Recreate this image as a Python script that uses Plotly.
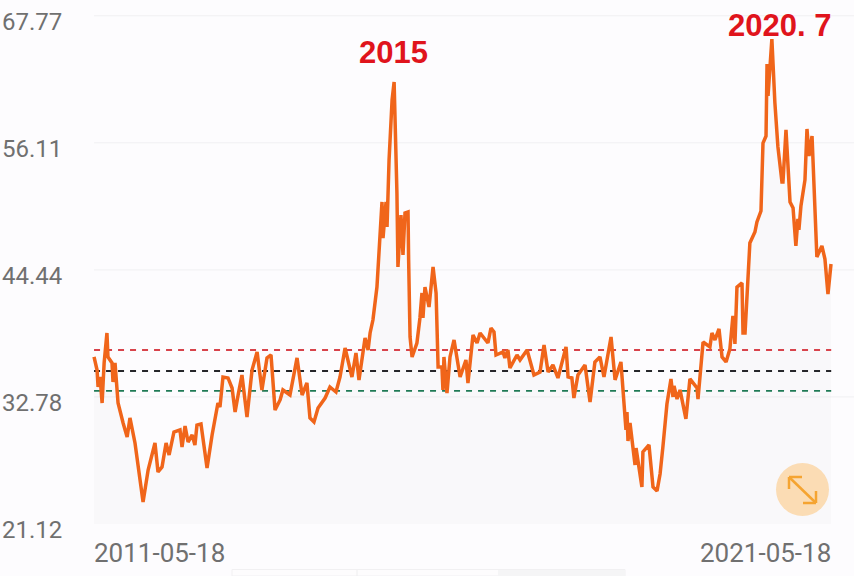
import datetime as dt
import plotly.graph_objects as go

START = dt.date(2011, 5, 18)
END = dt.date(2021, 5, 18)

days = [0,15,20,30,40,50,64,69,89,94,104,119,144,164,178,203,243,268,302,317,337,357,372,396,426,436,451,466,486,500,510,530,560,585,614,624,639,664,684,699,714,733,758,783,808,832,857,877,897,922,936,971,1006,1031,1055,1070,1090,1110,1145,1169,1199,1219,1244,1278,1298,1313,1343,1358,1368,1382,1402,1417,1427,1432,1447,1452,1462,1477,1487,1501,1506,1521,1531,1541,1556,1559,1566,1576,1600,1615,1625,1630,1640,1660,1670,1680,1695,1705,1724,1729,1734,1749,1764,1784,1814,1843,1853,1878,1898,1913,1952,1967,1982,1992,2027,2036,2051,2061,2096,2111,2146,2180,2210,2230,2250,2274,2299,2339,2349,2368,2378,2398,2433,2458,2482,2507,2527,2562,2582,2611,2636,2641,2646,2656,2681,2686,2715,2720,2750,2770,2790,2805,2819,2839,2859,2869,2874,2889,2904,2933,2953,2988,2993,3018,3052,3062,3077,3097,3112,3132,3151,3166,3176,3186,3211,3216,3226,3250,3275,3285,3305,3315,3330,3335,3340,3359,3374,3389,3409,3414,3429,3449,3464,3478,3488,3493,3503,3523,3533,3543,3558,3582,3607,3622,3637,3652]
values = [36.45,35.25,33.69,34.61,32.22,35.90,38.65,36.45,35.90,34.15,35.90,32.22,30.39,29.10,30.85,28.55,23.14,26.07,28.55,25.89,26.35,28.55,27.45,29.56,29.75,28.19,30.11,28.64,29.29,28.37,30.20,30.30,26.26,29.29,32.22,31.86,34.61,34.52,33.60,31.40,32.96,34.79,30.94,35.25,36.91,33.42,36.36,36.63,31.58,32.50,33.42,32.96,36.36,32.96,34.06,30.85,30.48,31.77,32.68,33.69,33.23,34.61,37.27,34.61,36.81,34.34,38.19,37.09,38.65,39.84,42.87,47.46,50.68,47.37,50.68,48.38,54.53,60.04,61.69,51.50,44.71,49.48,45.81,49.67,49.76,45.35,38.28,36.45,37.73,40.03,42.32,40.03,42.87,41.04,42.60,44.71,42.32,35.53,35.53,33.42,36.45,33.14,36.45,38.01,34.61,36.17,34.06,38.47,37.73,38.65,37.73,39.11,38.74,36.63,36.91,36.36,37.09,35.44,36.63,36.17,37.09,34.79,35.07,37.55,35.07,35.71,34.52,37.37,34.61,34.52,32.68,34.79,35.71,32.32,35.99,36.45,34.61,38.28,34.34,35.99,29.75,31.40,28.74,30.39,26.53,28.09,24.51,27.73,28.37,24.51,24.15,25.71,28.19,32.13,34.43,32.78,33.79,32.59,33.42,30.76,34.43,33.60,32.59,37.82,37.37,38.65,38.01,39.02,36.45,35.99,37.18,40.21,37.64,42.87,43.24,38.65,38.65,46.91,47.92,48.84,49.85,56.09,56.73,63.34,60.41,65.64,59.76,55.73,52.51,52.51,57.29,50.68,50.13,46.64,49.12,48.11,50.31,52.70,57.38,54.90,56.73,45.63,46.64,45.44,42.23,44.98]

y_ticks = [67.77, 56.11, 44.44, 32.78, 21.12]
high_band = 37.09
mid_band = 35.16
low_band = 33.33

dates = [START + dt.timedelta(days=d) for d in days]

W, H = 854, 576
def px(x): return x / W
def py(y): return 1 - y / H

x_min = START - dt.timedelta(days=466)
x_max = START + dt.timedelta(days=3766)

fig = go.Figure()
# light gridlines, starting just left of the data and running off the right edge
for t in y_ticks[:-1]:
    fig.add_trace(go.Scatter(x=[START, x_max], y=[t, t], mode="lines",
                             line=dict(color="#f0f0f2", width=1), hoverinfo="skip"))
fig.add_trace(go.Scatter(x=[START, END], y=[y_ticks[-1]] * 2, mode="lines",
                         line=dict(width=0), hoverinfo="skip"))
fig.add_trace(go.Scatter(x=dates, y=values, mode="lines", line=dict(width=0),
                         fill="tonexty", fillcolor="rgba(60,60,40,0.02)", hoverinfo="skip"))
for level, color in [(high_band, "#d8434b"), (mid_band, "#26262a"), (low_band, "#1f7a55")]:
    fig.add_trace(go.Scatter(x=[START, END], y=[level, level], mode="lines",
                             line=dict(color=color, width=1.8, dash="6px,6px"), hoverinfo="skip"))
fig.add_trace(go.Scatter(x=dates, y=values, mode="lines",
                         line=dict(color="#f0651a", width=3.5, shape="linear")))

tick_font = dict(family="Roboto", size=24, color="#707070")
date_font = dict(family="Roboto", size=26, color="#707070")
note_font = dict(family="Liberation Sans", size=31, color="#e0141c")

annotations = []
for t in y_ticks:
    annotations.append(dict(x=0, xref="paper", y=t, yref="y", yshift=-6, text=f"{t:.2f}",
                            showarrow=False, xanchor="left", yanchor="middle",
                            xshift=0, font=tick_font))
annotations.append(dict(x=START, xref="x", y=py(553), yref="paper", text="2011-05-18", showarrow=False,
                        xanchor="left", yanchor="middle", xshift=-2, font=date_font))
annotations.append(dict(x=END, xref="x", y=py(553), yref="paper", text="2021-05-18", showarrow=False,
                        xanchor="right", yanchor="middle", xshift=2, font=date_font))
annotations.append(dict(x=px(393), xref="paper", y=py(53), yref="paper", text="<b>2015</b>", showarrow=False,
                        xanchor="center", yanchor="middle", font=note_font))
annotations.append(dict(x=px(779), xref="paper", y=py(26), yref="paper", text="<b>2020. 7</b>", showarrow=False,
                        xanchor="center", yanchor="middle", font=note_font))

shapes = [
    dict(type="circle", xref="paper", yref="paper", x0=px(776), x1=px(829), y0=py(463), y1=py(516),
         fillcolor="#fbdcb4", line=dict(width=0), layer="above"),
    # tab strip peeking in at the bottom edge
    dict(type="rect", xref="paper", yref="paper", x0=px(232), x1=px(625), y0=py(576), y1=py(569.5),
         fillcolor="#fdfcfd", line=dict(color="#f1f0f2", width=1), layer="above"),
    dict(type="rect", xref="paper", yref="paper", x0=px(498), x1=px(625), y0=py(576), y1=py(570),
         fillcolor="#f5f5f6", line=dict(width=0), layer="above"),
    dict(type="line", xref="paper", yref="paper", x0=px(357), x1=px(357), y0=py(576), y1=py(570),
         line=dict(color="#eeeeef", width=1), layer="above"),
]
for path in [((789, 477), (816, 503)), ((789, 477), (789, 489)), ((789, 477), (802, 477)),
             ((816, 503), (816, 491)), ((816, 503), (803, 503))]:
    (a, b), (c, d) = path
    shapes.append(dict(type="line", xref="paper", yref="paper", x0=px(a), y0=py(b), x1=px(c), y1=py(d),
                       line=dict(color="#f5a431", width=2.5), layer="above"))

fig.update_layout(
    width=W, height=H, margin=dict(l=0, r=0, t=0, b=0),
    paper_bgcolor="#fdfcfe", plot_bgcolor="#fdfcfe", showlegend=False,
    annotations=annotations, shapes=shapes,
    xaxis=dict(range=[x_min, x_max], showgrid=False, zeroline=False, showticklabels=False, ticks=""),
    yaxis=dict(range=[16.34, 69.22], showgrid=False, showticklabels=False, ticks="", zeroline=False),
)
fig.write_html("out.html", config={"displayModeBar": False},
               post_script="document.body.style.margin='0';")
